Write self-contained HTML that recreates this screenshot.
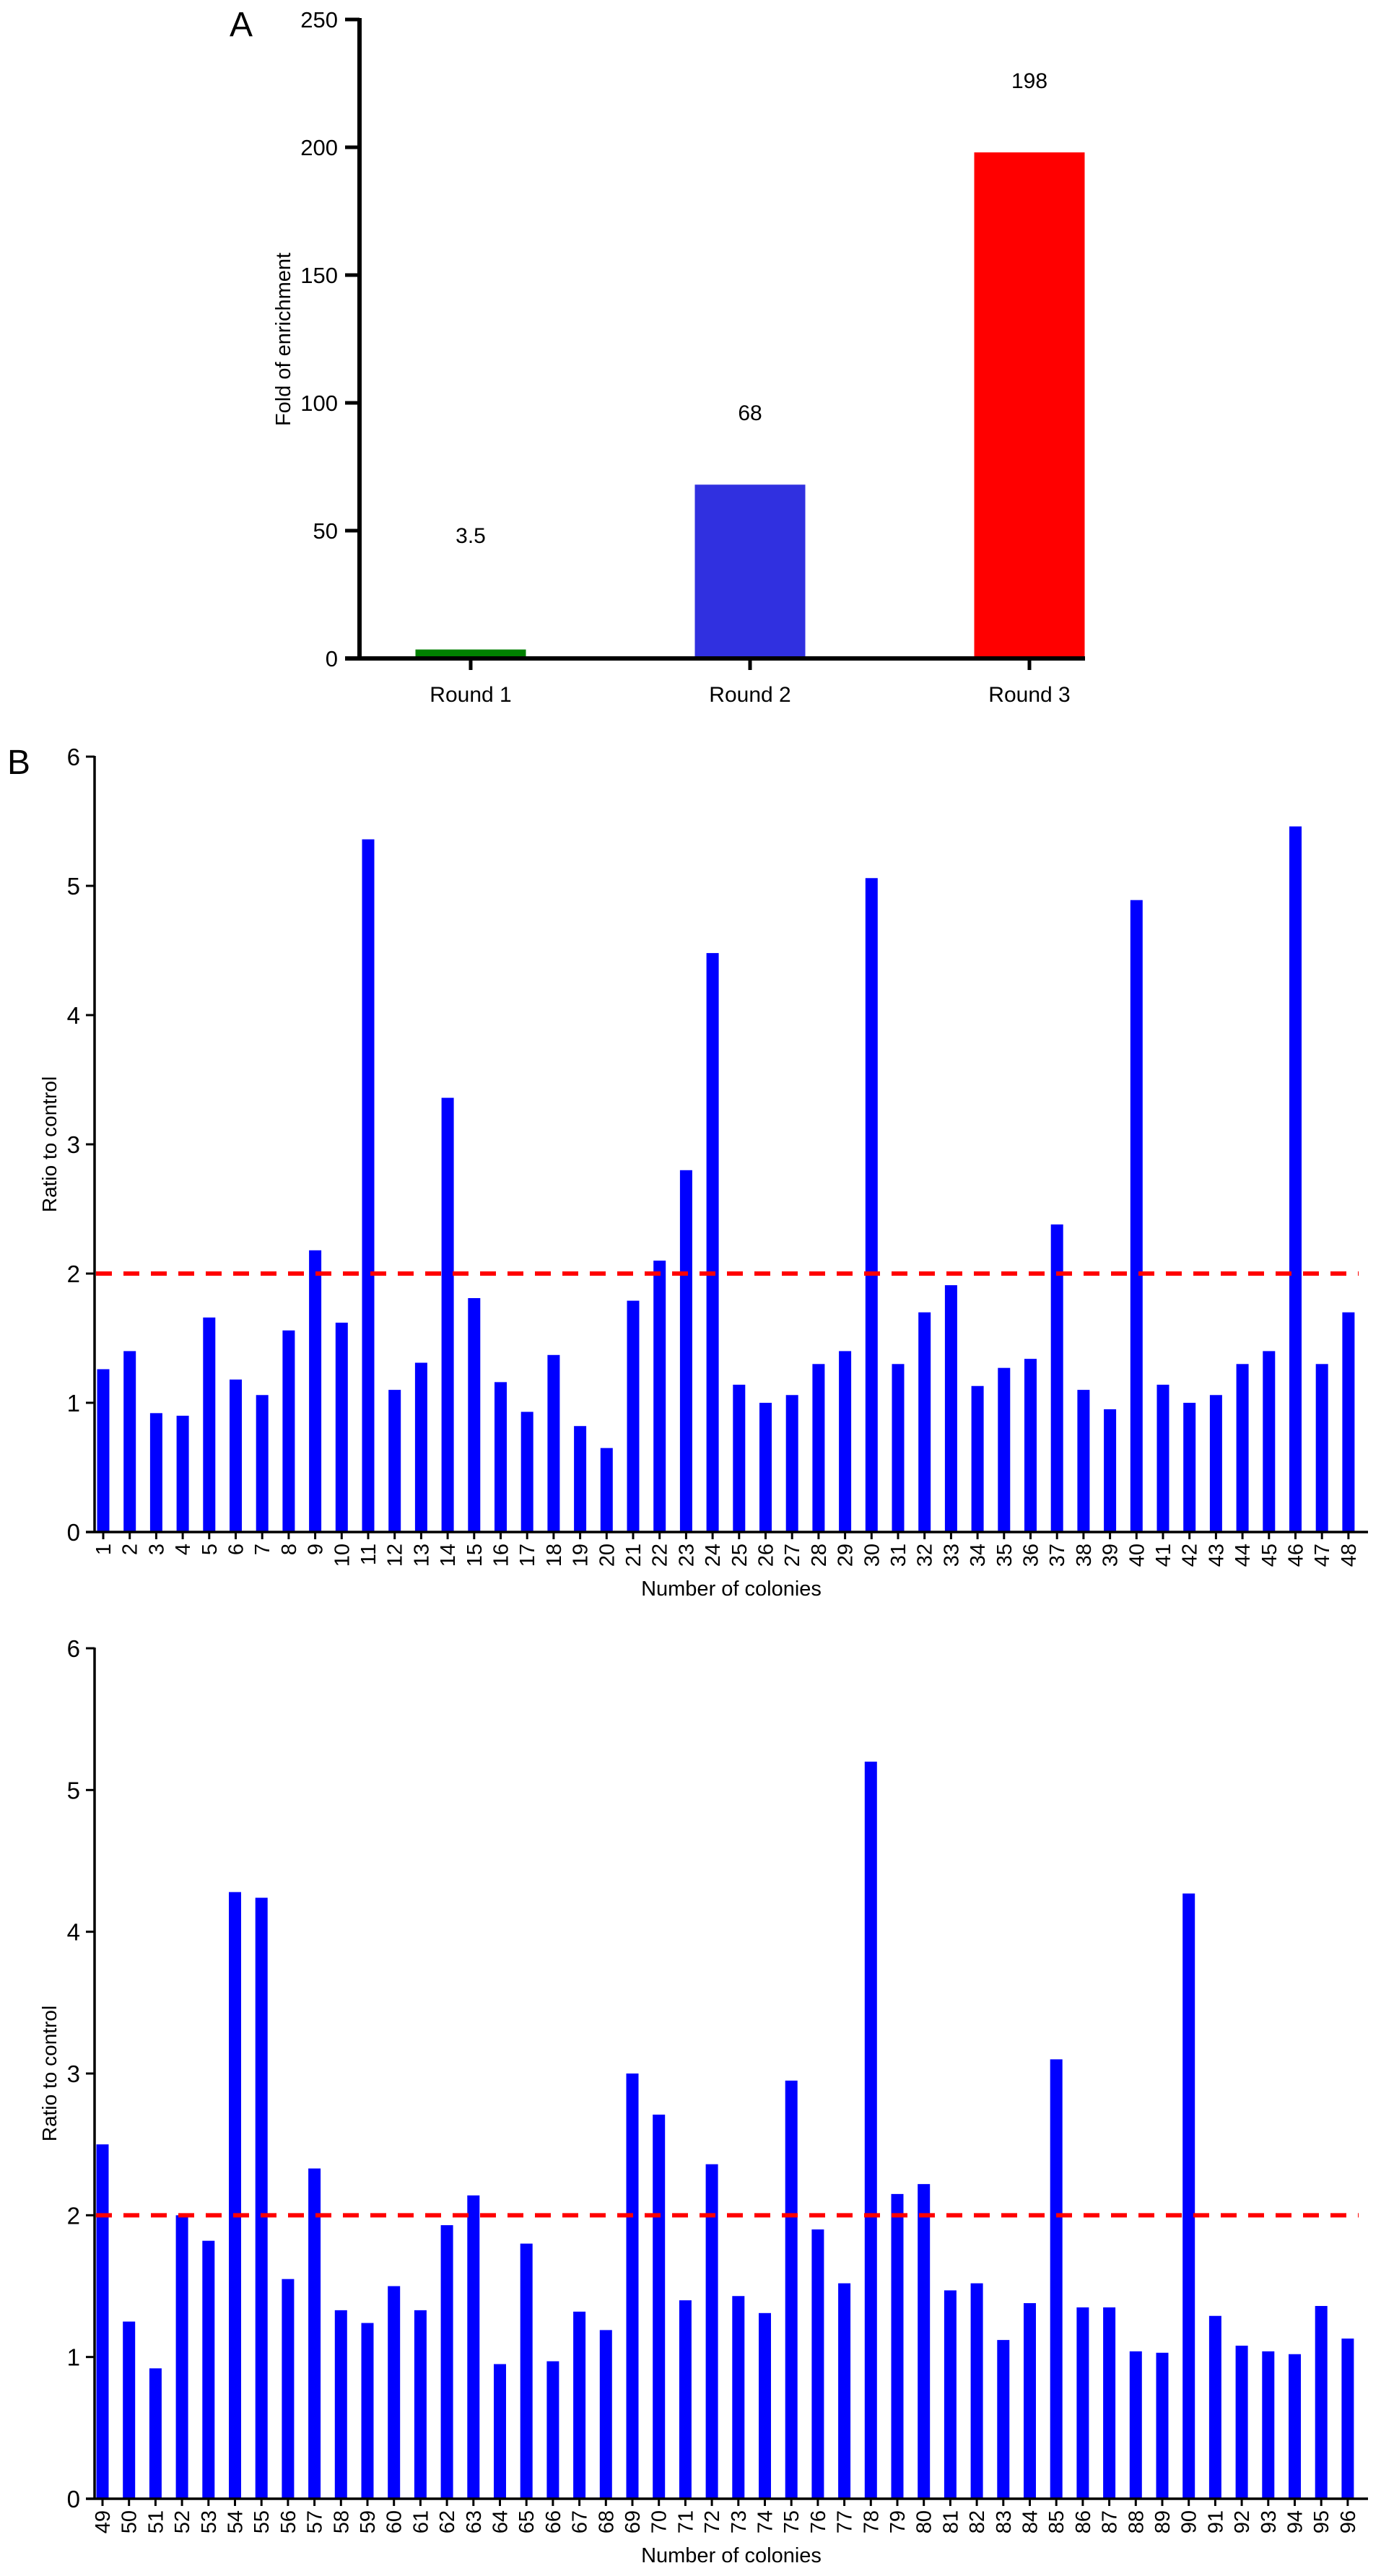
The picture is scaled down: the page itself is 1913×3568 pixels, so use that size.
<!DOCTYPE html>
<html><head><meta charset="utf-8"><style>
html,body{margin:0;padding:0;background:#fff;}
svg{display:block;font-family:"Liberation Sans",Arial,sans-serif;}
</style></head><body>
<svg id="fig" width="1913" height="3568" viewBox="0 0 1913 3568" xmlns="http://www.w3.org/2000/svg">
<text x="318" y="50" font-size="48">A</text>
<text x="10" y="1072" font-size="48">B</text>
<g id="chartA"></g>
<g id="chartB1"></g>
<g id="chartB2"></g>
</svg>
<script>
// Panel A data
const roundCategories = ["Round 1","Round 2","Round 3"];
const roundValues = [3.5, 68, 198];
const roundLabels = ["3.5","68","198"];
const roundColors = ["#008000","#3030e0","#ff0000"];
const aTicks = [0,50,100,150,200,250];
// Panel B data
const colonies1 = [1,2,3,4,5,6,7,8,9,10,11,12,13,14,15,16,17,18,19,20,21,22,23,24,25,26,27,28,29,30,31,32,33,34,35,36,37,38,39,40,41,42,43,44,45,46,47,48];
const ratios1 = [1.26,1.4,0.92,0.9,1.66,1.18,1.06,1.56,2.18,1.62,5.36,1.1,1.31,3.36,1.81,1.16,0.93,1.37,0.82,0.65,1.79,2.1,2.8,4.48,1.14,1.0,1.06,1.3,1.4,5.06,1.3,1.7,1.91,1.13,1.27,1.34,2.38,1.1,0.95,4.89,1.14,1.0,1.06,1.3,1.4,5.46,1.3,1.7];
const colonies2 = [49,50,51,52,53,54,55,56,57,58,59,60,61,62,63,64,65,66,67,68,69,70,71,72,73,74,75,76,77,78,79,80,81,82,83,84,85,86,87,88,89,90,91,92,93,94,95,96];
const ratios2 = [2.5,1.25,0.92,2.0,1.82,4.28,4.24,1.55,2.33,1.33,1.24,1.5,1.33,1.93,2.14,0.95,1.8,0.97,1.32,1.19,3.0,2.71,1.4,2.36,1.43,1.31,2.95,1.9,1.52,5.2,2.15,2.22,1.47,1.52,1.12,1.38,3.1,1.35,1.35,1.04,1.03,4.27,1.29,1.08,1.04,1.02,1.36,1.13];
const bTicks = [0,1,2,3,4,5,6];
const threshold = 2;

const NS="http://www.w3.org/2000/svg";
function mk(parent,tag,attrs,text){const e=document.createElementNS(NS,tag);for(const k in attrs)e.setAttribute(k,attrs[k]);if(text!==undefined)e.textContent=text;parent.appendChild(e);return e;}

// ---- Panel A ----
(function(){
  const g=document.getElementById('chartA');
  const ax=498, y0=912, yTop=27, vmax=250;
  const ys=v=>y0-(v/vmax)*(y0-yTop);
  const xc=i=>652+i*387;
  const bw=153;
  roundValues.forEach((v,i)=>{
    const r=mk(g,'rect',{x:xc(i)-bw/2,y:ys(v),width:bw,height:y0-ys(v),fill:roundColors[i]});
    
    
    const t=mk(g,'text',{x:xc(i),y:ys(Math.max(v,20)+28)+10,'font-size':30,'text-anchor':'middle'},roundLabels[i]);
    
    
    const tk=mk(g,'line',{x1:xc(i),x2:xc(i),y1:y0,y2:y0+16,stroke:'#000','stroke-width':5});
    
    
    const lb=mk(g,'text',{x:xc(i),y:y0+60,'font-size':30,'text-anchor':'middle'},roundCategories[i]);
    
    
  });
  aTicks.forEach(v=>{
    const l=mk(g,'line',{x1:ax-20,x2:ax,y1:ys(v),y2:ys(v),stroke:'#000','stroke-width':5});
    
    
    const t=mk(g,'text',{x:ax-30,y:ys(v)+11,'font-size':31,'text-anchor':'end'},String(v));
    
    
  });
  const yl=mk(g,'line',{x1:ax,x2:ax,y1:yTop-2,y2:y0+2,stroke:'#000','stroke-width':6});
  
  
  const xl=mk(g,'line',{x1:ax-20,x2:1503,y1:y0,y2:y0,stroke:'#000','stroke-width':6});
  
  
  const tt=mk(g,'text',{x:0,y:0,'font-size':29,'text-anchor':'middle',transform:'translate(402,470) rotate(-90)'},'Fold of enrichment');
  
  
})();

// ---- Panel B ----
function drawB(id,cats,vals,yTop,y0,x0,step){
  const g=document.getElementById(id);
  const ax=131, vmax=6;
  const ys=v=>y0-(v/vmax)*(y0-yTop);
  const xc=i=>x0+i*step;
  const bw=17;
  vals.forEach((v,i)=>{
    const r=mk(g,'rect',{x:xc(i)-bw/2,y:ys(v),width:bw,height:y0-ys(v),fill:'#0000ff'});
    
    
    const tk=mk(g,'line',{x1:xc(i),x2:xc(i),y1:y0,y2:y0+10,stroke:'#000','stroke-width':3});
    
    
    const t=mk(g,'text',{x:0,y:0,'font-size':29,'text-anchor':'end',transform:'translate('+(xc(i)+10)+','+(y0+16)+') rotate(-90)'},String(cats[i]));
    
    
  });
  bTicks.forEach(v=>{
    const l=mk(g,'line',{x1:ax-12,x2:ax,y1:ys(v),y2:ys(v),stroke:'#000','stroke-width':3});
    
    
    const t=mk(g,'text',{x:ax-20,y:ys(v)+12,'font-size':33,'text-anchor':'end'},String(v));
    
    
  });
  const yl=mk(g,'line',{x1:ax,x2:ax,y1:yTop-1,y2:y0+1,stroke:'#000','stroke-width':3.5});
  
  
  const xl=mk(g,'line',{x1:ax-12,x2:1895,y1:y0,y2:y0,stroke:'#000','stroke-width':3.5});
  
  
  const d=mk(g,'line',{x1:ax+2,x2:1882,y1:ys(threshold),y2:ys(threshold),stroke:'#ff0000','stroke-width':6,'stroke-dasharray':'22 16'});
  
  
  const tt=mk(g,'text',{x:0,y:0,'font-size':28,'text-anchor':'middle',transform:'translate(78,'+((yTop+y0)/2)+') rotate(-90)'},'Ratio to control');
  
  
  const xt=mk(g,'text',{x:(ax+1895)/2,y:y0+88,'font-size':29,'text-anchor':'middle'},'Number of colonies');
  
  
}
drawB('chartB1',colonies1,ratios1,1048,2122,143,36.7);
drawB('chartB2',colonies2,ratios2,2283,3461,142,36.7);
</script>
</body></html>
